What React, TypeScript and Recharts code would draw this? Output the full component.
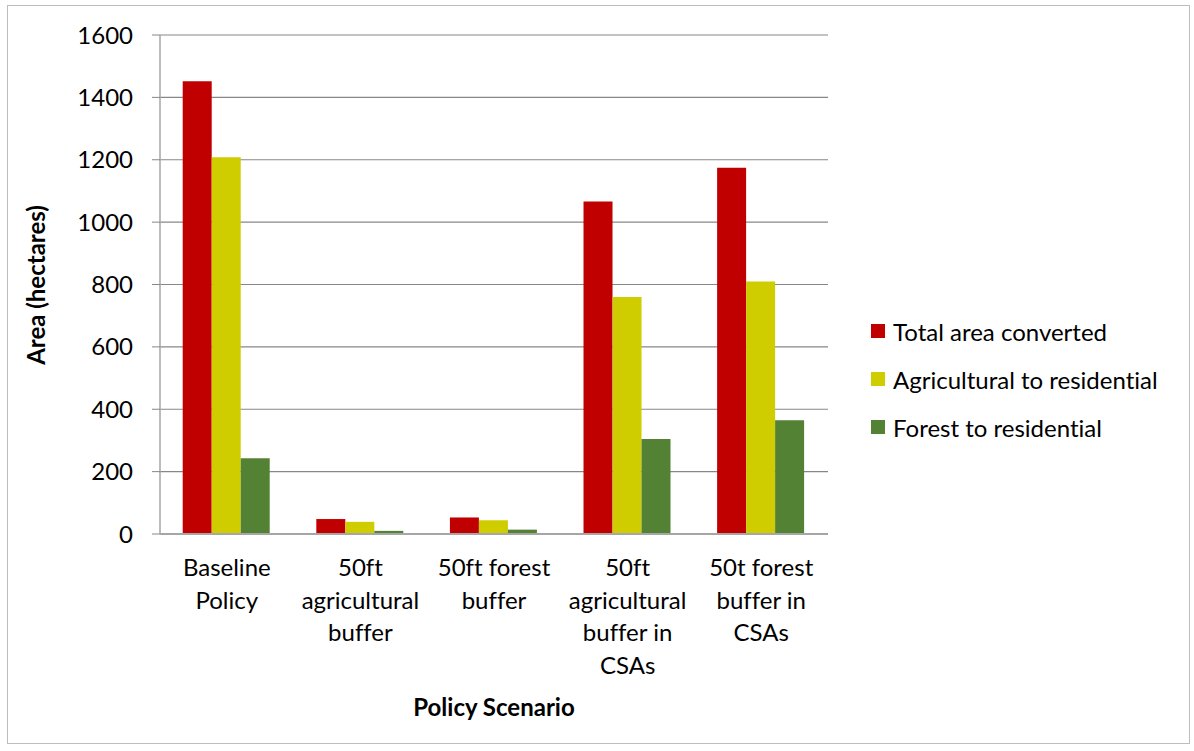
import { BarChart, Bar, XAxis, YAxis, CartesianGrid } from "recharts";

const scenarios = [
  "Baseline Policy",
  "50ft agricultural buffer",
  "50ft forest buffer",
  "50ft agricultural buffer in CSAs",
  "50t forest buffer in CSAs",
];

// wrapped tick labels as they appear under the axis
const tickLines: string[][] = [
  ["Baseline", "Policy"],
  ["50ft", "agricultural", "buffer"],
  ["50ft forest", "buffer"],
  ["50ft", "agricultural", "buffer in", "CSAs"],
  ["50t forest", "buffer in", "CSAs"],
];

const totalConverted = [1452, 48, 53, 1066, 1174];
const agriToResidential = [1208, 39, 44, 760, 810];
const forestToResidential = [243, 10, 14, 305, 365];

const seriesNames = ["Total area converted", "Agricultural to residential", "Forest to residential"];
const seriesColors = ["#C00000", "#CFCC00", "#548235"];

const yTicks = [0, 200, 400, 600, 800, 1000, 1200, 1400, 1600];

const FONT = "Lato, 'Open Sans', sans-serif";
const FS = 24;

const chartData = scenarios.map((name, i) => ({
  name,
  total: totalConverted[i],
  agri: agriToResidential[i],
  forest: forestToResidential[i],
}));

function ScenarioTick(props: any) {
  const { x, y, index } = props;
  const lines = tickLines[index] || [props.payload.value];
  return (
    <text
      x={x}
      y={y}
      textAnchor="middle"
      fontFamily={FONT}
      fontSize={FS}
      fill="#000"
      style={{ fontVariantLigatures: "none" }}
    >
      {lines.map((l, i) => (
        <tspan key={i} x={x} dy={i === 0 ? 34 : 32.5}>
          {l}
        </tspan>
      ))}
    </text>
  );
}

export default function App() {
  return (
    <div style={{ position: "relative", width: 1194, height: 751, background: "#fff", fontVariantLigatures: "none" }}>
      <style>{"body{margin:0}"}</style>
      {/* outer chart frame */}
      <div
        style={{
          position: "absolute",
          left: 7,
          top: 5,
          width: 1183,
          height: 739,
          border: "1px solid #bdbdbd",
          boxSizing: "border-box",
        }}
      />
      <BarChart
        width={1194}
        height={751}
        data={chartData}
        margin={{ top: 35, right: 366, left: 0, bottom: 17 }}
        barCategoryGap="17%"
        barGap={0}
      >
        <CartesianGrid vertical={false} stroke="#878787" strokeWidth={1.2} />
        <XAxis
          dataKey="name"
          height={200}
          interval={0}
          tickLine={false}
          axisLine={{ stroke: "#a6a6a6", strokeWidth: 2 }}
          tick={<ScenarioTick />}
        />
        <YAxis
          width={160}
          domain={[0, 1600]}
          ticks={yTicks}
          interval={0}
          tickSize={8}
          tickMargin={19}
          tickLine={{ stroke: "#878787" }}
          axisLine={{ stroke: "#a6a6a6", strokeWidth: 1.5 }}
          tick={{ fontFamily: FONT, fontSize: FS, fill: "#000" }}
        />
        <Bar dataKey="total" name={seriesNames[0]} fill={seriesColors[0]} isAnimationActive={false} />
        <Bar dataKey="agri" name={seriesNames[1]} fill={seriesColors[1]} isAnimationActive={false} />
        <Bar dataKey="forest" name={seriesNames[2]} fill={seriesColors[2]} isAnimationActive={false} />
      </BarChart>
      {/* legend */}
      <div style={{ position: "absolute", left: 871, top: 307, fontFamily: FONT, fontSize: FS, color: "#000" }}>
        {seriesNames.map((n, i) => (
          <div key={n} style={{ display: "flex", alignItems: "center", height: 48, whiteSpace: "nowrap" }}>
            <span style={{ width: 14, height: 14, background: seriesColors[i], marginRight: 8, display: "inline-block" }} />
            <span>{n}</span>
          </div>
        ))}
      </div>
      <div
        style={{
          position: "absolute",
          left: 35,
          top: 285,
          transform: "translate(-50%, -50%) rotate(-90deg)",
          fontFamily: FONT,
          fontSize: FS,
          fontWeight: "bold",
          whiteSpace: "nowrap",
        }}
      >
        Area (hectares)
      </div>
      <div
        style={{
          position: "absolute",
          left: 494,
          top: 706,
          transform: "translate(-50%, -50%)",
          fontFamily: FONT,
          fontSize: FS,
          fontWeight: "bold",
          whiteSpace: "nowrap",
        }}
      >
        Policy Scenario
      </div>
    </div>
  );
}
